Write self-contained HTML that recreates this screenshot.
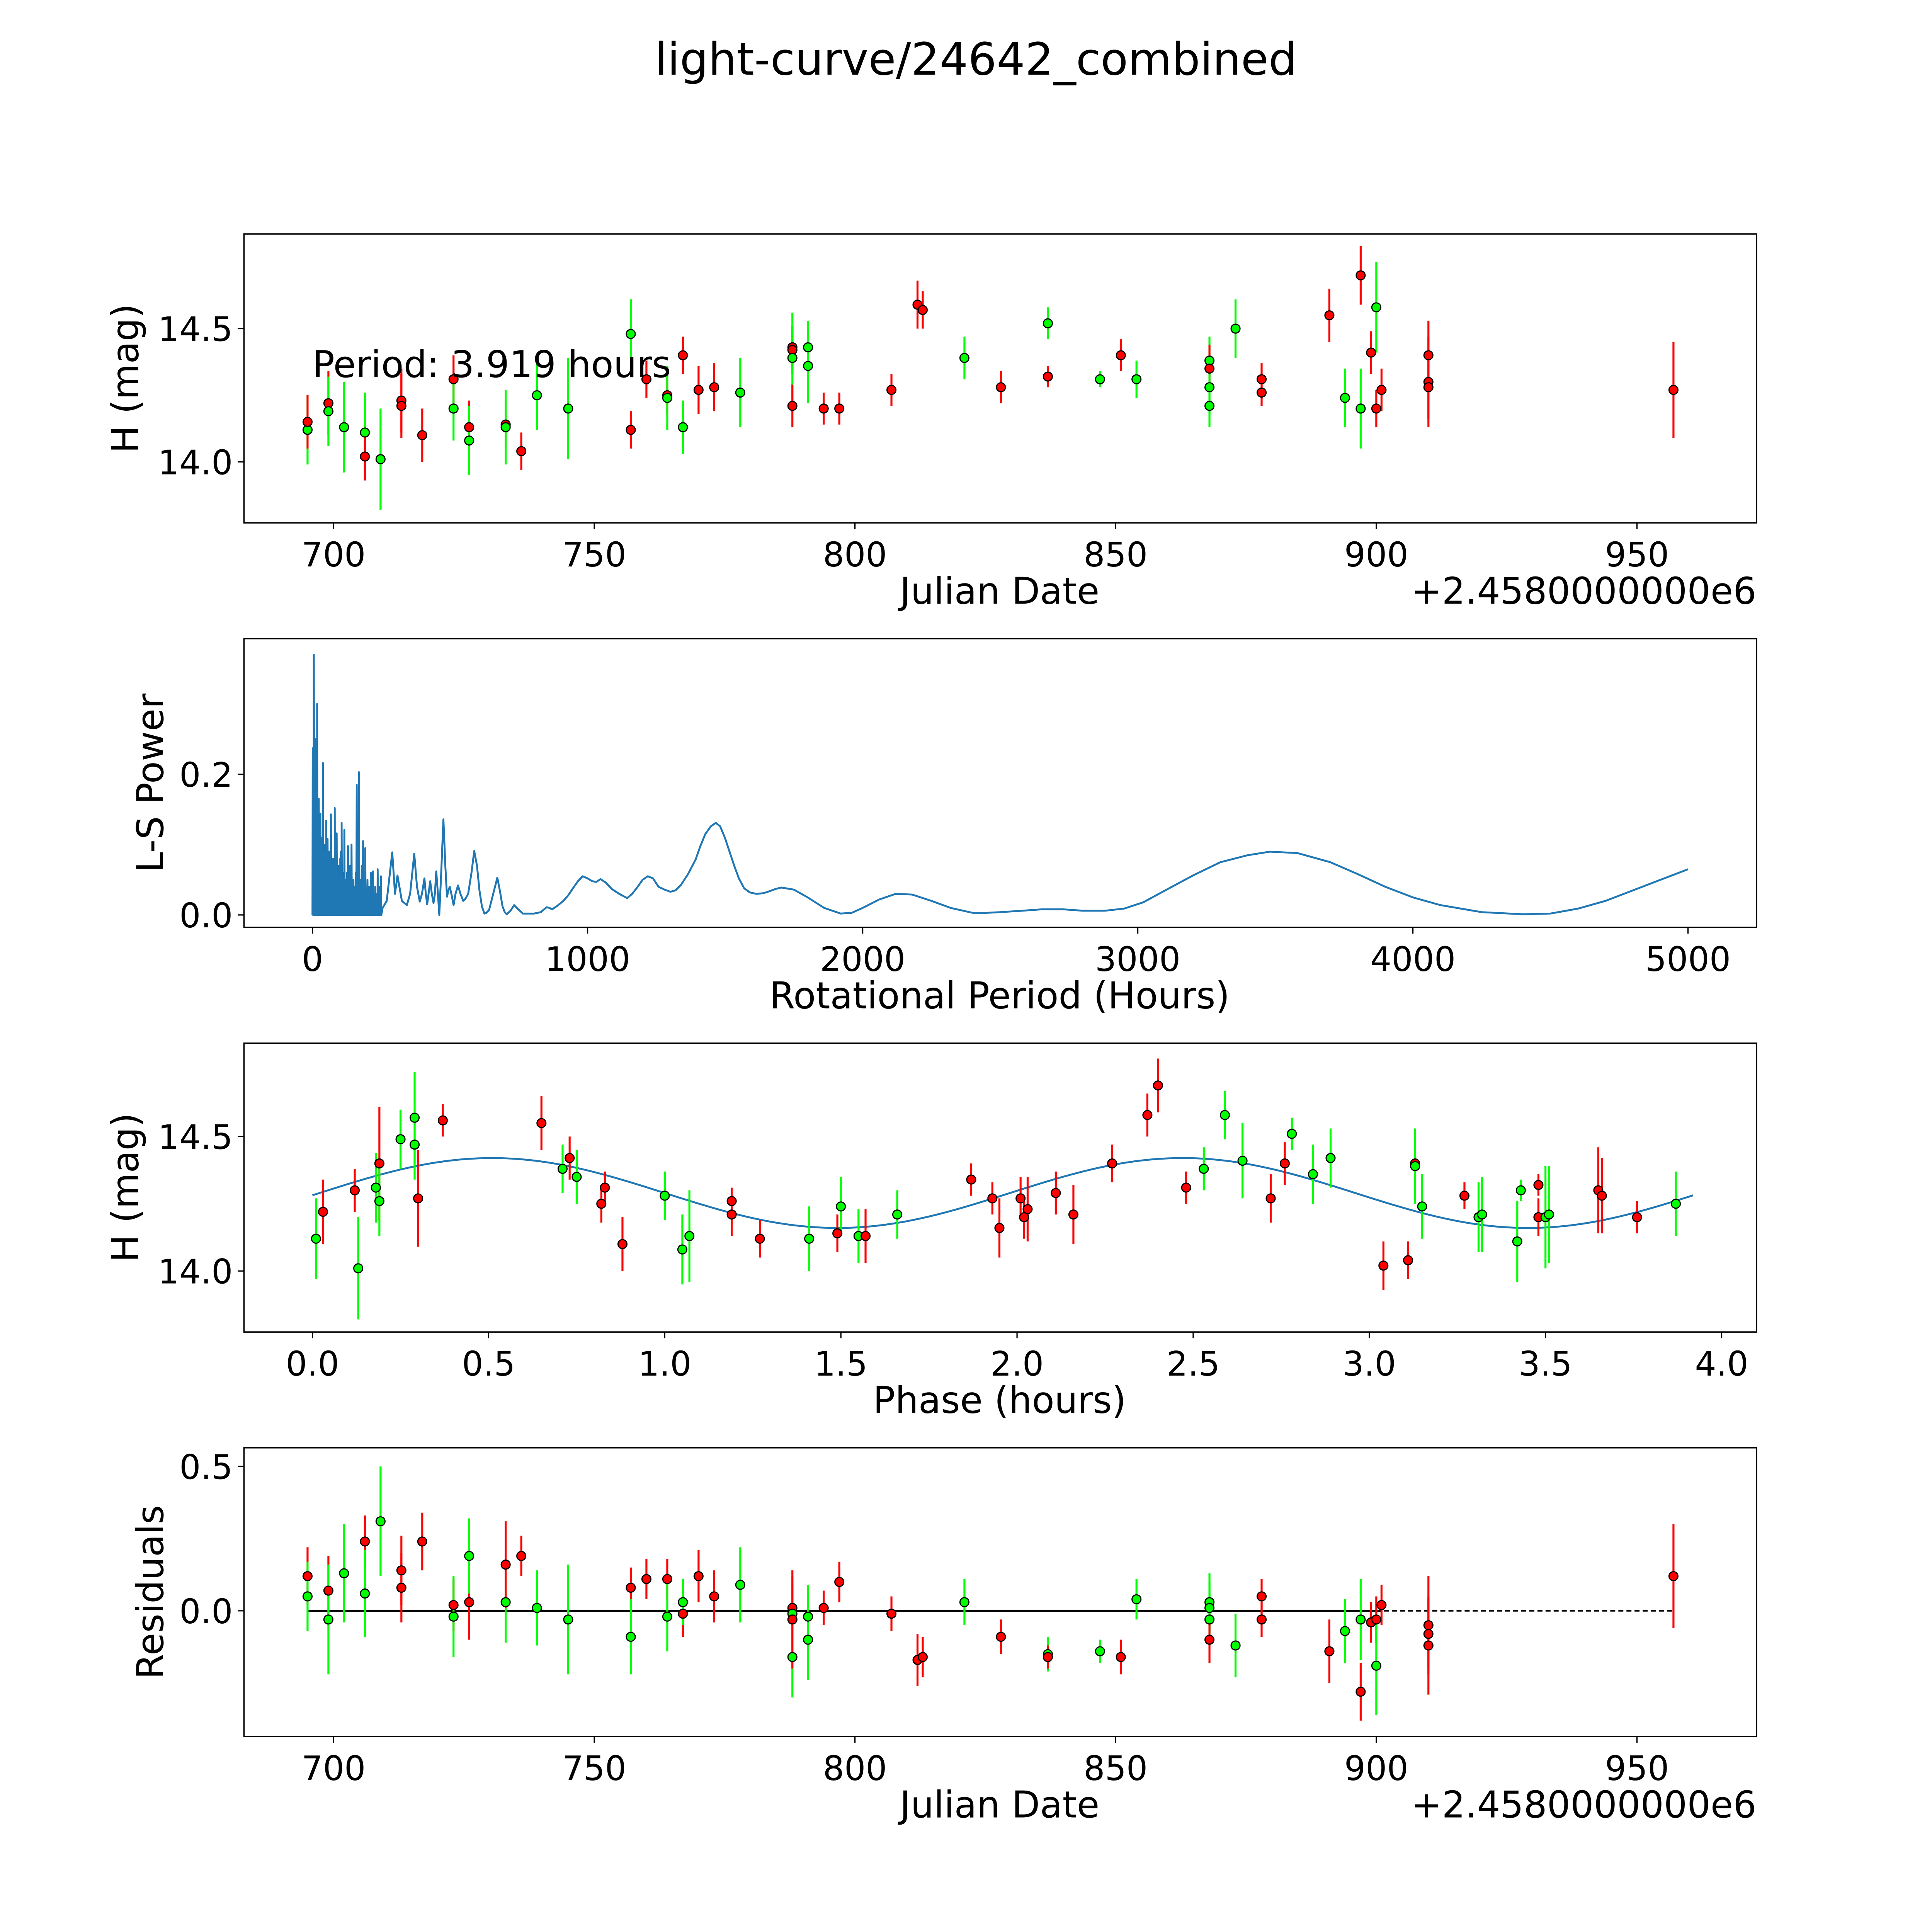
<!DOCTYPE html>
<html><head><meta charset="utf-8"><style>
html,body{margin:0;padding:0;background:#fff;overflow:hidden;width:100%;height:100%;}
svg{display:block;font-family:"DejaVu Sans","Liberation Sans",sans-serif;width:100vw;height:100vh;}
</style></head><body>
<svg id="fig" viewBox="0 0 1552 1552" preserveAspectRatio="none" xmlns="http://www.w3.org/2000/svg">
<rect x="0" y="0" width="1552" height="1552" fill="#fff"/>
<text x="784" y="60" font-size="36" text-anchor="middle">light-curve/24642_combined</text>
<g id="g1"></g>
<g id="g2"></g>
<g id="g3"></g>
<g id="g4"></g>
</svg>
<script>
// Panel 1: light curve
const jd1  = [695,695,699,699,702,706,706,709,713,713,717,723,723,726,726,733,733,736,739,745,757,757,760,764,764,767,767,770,773,778,788,788,788,788,791,791,794,797,807,812,813,821,828,837,837,847,851,854,868,868,868,868,873,878,878,891,894,897,897,899,900,900,901,910,910,910,957];
const mag1 = [14.12,14.15,14.22,14.19,14.13,14.11,14.02,14.01,14.23,14.21,14.10,14.31,14.20,14.13,14.08,14.14,14.13,14.04,14.25,14.20,14.48,14.12,14.31,14.25,14.24,14.40,14.13,14.27,14.28,14.26,14.43,14.42,14.39,14.21,14.43,14.36,14.20,14.20,14.27,14.59,14.57,14.39,14.28,14.52,14.32,14.31,14.40,14.31,14.38,14.35,14.28,14.21,14.50,14.31,14.26,14.55,14.24,14.70,14.20,14.41,14.58,14.20,14.27,14.40,14.30,14.28,14.27];
const err1 = [0.13,0.10,0.12,0.13,0.17,0.15,0.09,0.19,0.12,0.12,0.10,0.09,0.12,0.10,0.13,0.09,0.14,0.07,0.13,0.19,0.13,0.07,0.07,0.07,0.12,0.07,0.10,0.09,0.09,0.13,0.08,0.09,0.17,0.08,0.10,0.14,0.06,0.06,0.06,0.09,0.07,0.08,0.06,0.06,0.04,0.03,0.06,0.07,0.09,0.09,0.10,0.08,0.11,0.06,0.05,0.10,0.11,0.11,0.15,0.08,0.17,0.07,0.08,0.13,0.17,0.12,0.18];
const col1 = ['g','r','r','g','g','g','r','g','r','r','r','r','g','r','g','r','g','r','g','g','g','r','r','r','g','r','g','r','r','g','r','r','g','r','g','g','r','r','r','r','r','g','r','g','r','g','r','g','g','r','g','g','g','r','r','r','g','r','g','r','g','r','r','r','r','r','r'];
const xTicks1 = [700,750,800,850,900,950];
const yTicks1 = [14.0,14.5];

// Panel 2: Lomb-Scargle periodogram
const spikeHours = [1,3,5,7,8,10,11,13,14,16,17,19,20,22,23,25,26,28,29,31,33,34,36,38,40,41,43,44,46,47,49,50,52,53,55,57,58,60,62,64,65,67,69,71,73,75,77,78,80,81,83,85,86,88,90,92,94,96,98,100,101,103,105,106,108,110,112,114,116,118,120,122,124,126,129,132,135,137,140,142,145,149,152,155,158,161,163,166,169,171,174,177,179,182,184,186,188,190,192,195,197,200,202,205,207,210,212,215,217,220,222,225,228,232,235,237,240,242,245,249];
const spikePower = [0.237,0.10,0.37,0.15,0.20,0.12,0.25,0.09,0.12,0.18,0.30,0.11,0.08,0.13,0.165,0.06,0.10,0.12,0.144,0.05,0.07,0.11,0.09,0.216,0.05,0.09,0.07,0.06,0.10,0.08,0.05,0.134,0.06,0.05,0.108,0.04,0.07,0.09,0.09,0.05,0.06,0.143,0.04,0.05,0.07,0.08,0.03,0.06,0.05,0.152,0.04,0.05,0.06,0.116,0.03,0.04,0.06,0.07,0.03,0.05,0.08,0.09,0.04,0.131,0.03,0.05,0.04,0.06,0.121,0.03,0.04,0.05,0.03,0.06,0.098,0.03,0.05,0.07,0.04,0.10,0.03,0.05,0.04,0.03,0.06,0.185,0.04,0.09,0.203,0.03,0.05,0.04,0.07,0.03,0.105,0.04,0.05,0.03,0.095,0.02,0.03,0.05,0.03,0.04,0.02,0.04,0.06,0.03,0.02,0.062,0.02,0.03,0.04,0.02,0.03,0.065,0.02,0.03,0.04,0.055];
const lsHours = [255,270,290,300,309,325,343,355,370,380,390,398,407,412,417,422,428,434,440,445,450,456,461,468,476,483,489,494,499,505,513,520,529,538,548,556,566,578,588,598,607,616,625,632,642,657,672,681,691,699,706,720,733,748,765,785,806,830,851,862,871,890,912,930,947,965,982,1000,1017,1032,1047,1066,1088,1115,1144,1162,1182,1200,1219,1238,1258,1280,1301,1320,1340,1365,1393,1410,1428,1448,1466,1482,1499,1516,1534,1550,1569,1590,1614,1640,1663,1684,1704,1750,1800,1860,1920,1960,2000,2060,2120,2180,2250,2320,2400,2450,2500,2580,2650,2730,2800,2880,2950,3020,3100,3200,3300,3400,3480,3580,3700,3800,3900,4000,4100,4250,4400,4500,4600,4700,4800,4900,5000];
const lsPower = [0.01,0.02,0.089,0.03,0.056,0.02,0.014,0.03,0.087,0.04,0.019,0.03,0.052,0.03,0.015,0.03,0.048,0.03,0.017,0.03,0.062,0.03,0.0,0.06,0.136,0.07,0.026,0.035,0.04,0.03,0.014,0.03,0.042,0.03,0.02,0.023,0.03,0.06,0.091,0.07,0.035,0.012,0.002,0.003,0.007,0.03,0.053,0.035,0.012,0.004,0.001,0.006,0.014,0.008,0.002,0.002,0.002,0.004,0.011,0.010,0.008,0.013,0.02,0.028,0.038,0.048,0.055,0.052,0.048,0.047,0.051,0.046,0.037,0.030,0.024,0.030,0.040,0.050,0.055,0.052,0.040,0.036,0.033,0.035,0.043,0.058,0.079,0.098,0.115,0.126,0.131,0.126,0.110,0.090,0.069,0.052,0.038,0.032,0.030,0.031,0.034,0.037,0.039,0.036,0.025,0.010,0.002,0.003,0.010,0.022,0.030,0.029,0.020,0.010,0.003,0.003,0.004,0.006,0.008,0.008,0.006,0.006,0.009,0.018,0.035,0.056,0.075,0.085,0.090,0.088,0.075,0.058,0.040,0.025,0.014,0.004,0.001,0.002,0.009,0.020,0.035,0.050,0.065];
const xTicks2 = [0,1000,2000,3000,4000,5000];
const yTicks2 = [0.0,0.2];

// Panel 3: phase-folded
const ph3  = [0.01,0.03,0.12,0.13,0.18,0.19,0.19,0.25,0.29,0.29,0.30,0.37,0.65,0.71,0.73,0.75,0.82,0.83,0.88,1.00,1.05,1.07,1.19,1.19,1.27,1.41,1.49,1.50,1.55,1.57,1.66,1.87,1.93,1.95,2.01,2.02,2.03,2.11,2.16,2.27,2.37,2.40,2.48,2.53,2.59,2.64,2.72,2.76,2.78,2.84,2.89,3.04,3.11,3.13,3.13,3.15,3.27,3.31,3.32,3.42,3.43,3.48,3.48,3.50,3.51,3.65,3.66,3.76,3.87];
const mag3 = [14.12,14.22,14.30,14.01,14.31,14.40,14.26,14.49,14.57,14.47,14.27,14.56,14.55,14.38,14.42,14.35,14.25,14.31,14.10,14.28,14.08,14.13,14.26,14.21,14.12,14.12,14.14,14.24,14.13,14.13,14.21,14.34,14.27,14.16,14.27,14.20,14.23,14.29,14.21,14.40,14.58,14.69,14.31,14.38,14.58,14.41,14.27,14.40,14.51,14.36,14.42,14.02,14.04,14.40,14.39,14.24,14.28,14.20,14.21,14.11,14.30,14.32,14.20,14.20,14.21,14.30,14.28,14.20,14.25];
const err3 = [0.15,0.12,0.08,0.19,0.13,0.21,0.13,0.11,0.17,0.13,0.18,0.06,0.10,0.09,0.08,0.10,0.07,0.06,0.10,0.09,0.13,0.17,0.05,0.08,0.07,0.12,0.07,0.11,0.10,0.10,0.09,0.06,0.06,0.11,0.08,0.08,0.12,0.08,0.11,0.07,0.08,0.10,0.06,0.08,0.09,0.14,0.09,0.08,0.06,0.11,0.11,0.09,0.07,0.06,0.14,0.12,0.05,0.13,0.14,0.15,0.04,0.04,0.07,0.19,0.18,0.16,0.14,0.06,0.12];
const col3 = ['g','r','r','g','g','r','g','g','g','g','r','r','r','g','r','g','r','r','r','g','g','g','r','r','r','g','r','g','g','r','g','r','r','r','r','r','r','r','r','r','r','r','r','g','g','g','r','r','g','g','g','r','r','r','g','g','r','g','g','g','g','r','r','g','g','r','r','r','g'];
const fitParams = [14.29, 0.13, 1.96, 0.02]; // mean, amplitude, sine period (h), phase offset
const fitPeriod = 3.919;
const xTicks3 = [0.0,0.5,1.0,1.5,2.0,2.5,3.0,3.5,4.0];
const yTicks3 = [14.0,14.5];

// Panel 4: residuals
const jd4  = [695,695,699,699,702,706,706,709,713,713,717,723,723,726,726,733,733,736,739,745,757,757,760,764,764,767,767,770,773,778,788,788,788,788,791,791,794,797,807,812,813,821,828,837,837,847,851,854,868,868,868,868,873,878,878,891,894,897,897,899,900,900,901,910,910,910,957];
const res4 = [0.12,0.05,0.07,-0.03,0.13,0.24,0.06,0.31,0.14,0.08,0.24,0.02,-0.02,0.03,0.19,0.03,0.16,0.19,0.01,-0.03,0.08,-0.09,0.11,0.11,-0.02,-0.01,0.03,0.12,0.05,0.09,0.01,-0.01,-0.16,-0.03,-0.02,-0.10,0.01,0.10,-0.01,-0.17,-0.16,0.03,-0.09,-0.15,-0.16,-0.14,-0.16,0.04,0.03,0.01,-0.03,-0.10,-0.12,0.05,-0.03,-0.14,-0.07,-0.03,-0.28,-0.04,-0.03,-0.19,0.02,-0.05,-0.08,-0.12,0.12];
const err4 = [0.10,0.12,0.12,0.19,0.17,0.09,0.15,0.19,0.12,0.12,0.10,0.09,0.14,0.13,0.13,0.14,0.15,0.07,0.13,0.19,0.07,0.13,0.07,0.07,0.12,0.08,0.08,0.09,0.09,0.13,0.08,0.13,0.14,0.17,0.11,0.14,0.06,0.07,0.06,0.09,0.07,0.08,0.06,0.06,0.04,0.04,0.06,0.07,0.10,0.09,0.09,0.08,0.11,0.06,0.06,0.11,0.11,0.14,0.10,0.07,0.08,0.17,0.07,0.17,0.12,0.17,0.18];
const col4 = ['r','g','r','g','g','r','g','g','r','r','r','r','g','r','g','g','r','r','g','g','r','g','r','r','g','r','g','r','r','g','r','g','g','r','g','g','r','r','r','r','r','g','r','g','r','g','r','g','g','g','g','r','g','r','r','r','g','g','r','r','r','g','r','r','r','r','r'];
const xTicks4 = [700,750,800,850,900,950];
const yTicks4 = [0.0,0.5];

const NS = 'http://www.w3.org/2000/svg';
function mk(tag, attrs, parent){ const e=document.createElementNS(NS,tag); for(const k in attrs) e.setAttribute(k,attrs[k]); parent.appendChild(e); return e; }
const COLORS = {r:'#ff0000', g:'#00ff00'};
const TICK_FS = 27, LABEL_FS = 29.5;

function sx1(d){ return 268 + (d-700)*4.188; }
function sy1(m){ return 371 - (m-14)*214; }
function sx2(h){ return 251 + h*0.2210; }
function sy2(p){ return 735 - p*565; }
function sx3(p){ return 251 + p*283; }
function sy3(m){ return 1021 - (m-14)*216; }
function sx4(d){ return sx1(d); }
function sy4(r){ return 1294 - r*232; }

function frame(g, top, name){
  const r = mk('rect',{x:196,y:top,width:1215,height:232,fill:'none',stroke:'#000','stroke-width':1.1},g);
  
  
}
function xAxis(g, ticks, sx, bottom, fmt, name){
  ticks.forEach(t=>{
    const x=sx(t);
    const l=mk('line',{x1:x,x2:x,y1:bottom,y2:bottom+5,stroke:'#000','stroke-width':1},g);
    
    
    const tx=mk('text',{x:x,y:bottom+35,'font-size':TICK_FS,'text-anchor':'middle'},g);
    tx.textContent=fmt(t);
    
    
  });
}
function yAxis(g, ticks, sy, fmt, name){
  ticks.forEach(t=>{
    const y=sy(t);
    const l=mk('line',{x1:191,x2:196,y1:y,y2:y,stroke:'#000','stroke-width':1},g);
    
    
    const tx=mk('text',{x:187,y:y+10,'font-size':TICK_FS,'text-anchor':'end'},g);
    tx.textContent=fmt(t);
    
    
  });
}
function label(g, txt, x, y, rot, name){
  const t=mk('text',{x:x,y:y,'font-size':LABEL_FS,'text-anchor':'middle'},g);
  if(rot) t.setAttribute('transform','rotate(-90 '+x+' '+y+')');
  t.textContent=txt;
  
  
}
function points(g, xs, ys, es, cs, sx, sy, name){
  for(let i=0;i<xs.length;i++){
    const x=sx(xs[i]);
    const eb=mk('line',{x1:x,x2:x,y1:sy(ys[i]+es[i]),y2:sy(ys[i]-es[i]),stroke:COLORS[cs[i]],'stroke-width':1.6},g);
    
    
  }
  for(let i=0;i<xs.length;i++){
    const c=mk('circle',{cx:sx(xs[i]),cy:sy(ys[i]),r:3.6,fill:COLORS[cs[i]],stroke:'#000','stroke-width':0.9},g);
    
    
  }
}
const f0=v=>String(v), f1=v=>v.toFixed(1);

const g1=document.getElementById('g1');
frame(g1,188,'light-curve');
xAxis(g1,xTicks1,sx1,420,f0,'light-curve');
yAxis(g1,yTicks1,sy1,f1,'light-curve');
points(g1,jd1,mag1,err1,col1,sx1,sy1,'light-curve');
label(g1,'Julian Date',803,485,false,'light-curve-x-axis-title');
label(g1,'H (mag)',111,304,true,'light-curve-y-axis-title');
{const t=mk('text',{x:1411,y:485,'font-size':LABEL_FS,'text-anchor':'end'},g1);t.textContent='+2.4580000000e6';

}
{const t=mk('text',{x:251,y:303,'font-size':LABEL_FS},g1);t.textContent='Period: 3.919 hours';

}

const g2=document.getElementById('g2');
frame(g2,513,'periodogram');
xAxis(g2,xTicks2,sx2,745,f0,'periodogram');
yAxis(g2,yTicks2,sy2,f1,'periodogram');
{
  let d='M'+sx2(0)+','+sy2(0);
  for(let i=0;i<spikeHours.length;i++){
    d+=' L'+sx2(spikeHours[i]).toFixed(2)+','+sy2(spikePower[i]).toFixed(2)+' L'+(sx2(spikeHours[i])+0.3).toFixed(2)+','+sy2(0);
  }
  for(let i=0;i<lsHours.length;i++) d+=' L'+sx2(lsHours[i]).toFixed(2)+','+sy2(lsPower[i]).toFixed(2);
  const p=mk('path',{d:d,fill:'none',stroke:'#1f77b4','stroke-width':1.5,'stroke-linejoin':'round'},g2);
  
  
}
label(g2,'Rotational Period (Hours)',803,810,false,'periodogram-x-axis-title');
label(g2,'L-S Power',131,629,true,'periodogram-y-axis-title');

const g3=document.getElementById('g3');
frame(g3,838,'phase');
xAxis(g3,xTicks3,sx3,1070,f1,'phase');
yAxis(g3,yTicks3,sy3,f1,'phase');
{
  let d='';
  for(let k=0;k<=200;k++){
    const p=fitPeriod*k/200;
    const m=fitParams[0]+fitParams[1]*Math.sin(2*Math.PI*(p-fitParams[3])/fitParams[2]);
    d+=(k?' L':'M')+sx3(p).toFixed(2)+','+sy3(m).toFixed(2);
  }
  const c=mk('path',{d:d,fill:'none',stroke:'#1f77b4','stroke-width':1.5},g3);
  
  
}
points(g3,ph3,mag3,err3,col3,sx3,sy3,'phase');
label(g3,'Phase (hours)',803,1135,false,'phase-x-axis-title');
label(g3,'H (mag)',111,954,true,'phase-y-axis-title');

const g4=document.getElementById('g4');
frame(g4,1163,'residuals');
xAxis(g4,xTicks4,sx4,1395,f0,'residuals');
yAxis(g4,yTicks4,sy4,f1,'residuals');
{
  const dl=mk('line',{x1:sx4(695),x2:sx4(957),y1:sy4(0),y2:sy4(0),stroke:'#000','stroke-width':1.2,'stroke-dasharray':'4,2.5'},g4);
  
  
  const sl=mk('line',{x1:sx4(695),x2:sx4(901),y1:sy4(0),y2:sy4(0),stroke:'#000','stroke-width':1.4},g4);
  
  
}
points(g4,jd4,res4,err4,col4,sx4,sy4,'residuals');
label(g4,'Julian Date',803,1460,false,'residuals-x-axis-title');
label(g4,'Residuals',131,1279,true,'residuals-y-axis-title');
{const t=mk('text',{x:1411,y:1460,'font-size':LABEL_FS,'text-anchor':'end'},g4);t.textContent='+2.4580000000e6';

}
</script>
</body></html>
